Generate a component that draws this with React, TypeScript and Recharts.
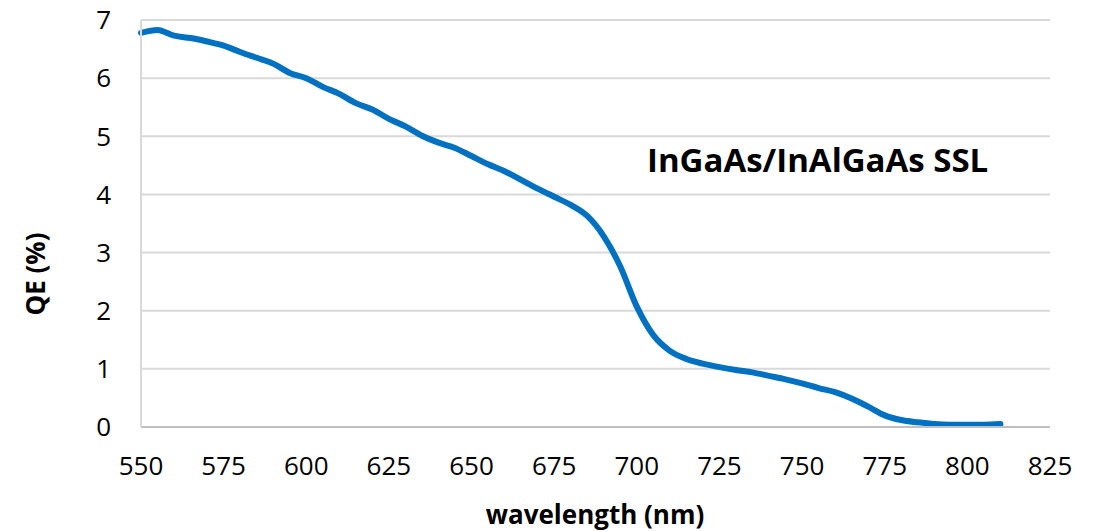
import { LineChart, Line, XAxis, YAxis, CartesianGrid } from 'recharts'

// wavelength (nm) sampled every 5 nm
const wavelengths = [
  550, 555, 560, 565, 570, 575, 580, 585, 590, 595,
  600, 605, 610, 615, 620, 625, 630, 635, 640, 645,
  650, 655, 660, 665, 670, 675, 680, 685, 690, 695,
  700, 705, 710, 715, 720, 725, 730, 735, 740, 745,
  750, 755, 760, 765, 770, 775, 780, 785, 790, 795,
  800, 805, 810,
]

// quantum efficiency (%)
const qe = [
  6.78, 6.83, 6.73, 6.69, 6.63, 6.56, 6.45, 6.35, 6.25, 6.09,
  6.0, 5.85, 5.73, 5.57, 5.46, 5.3, 5.17, 5.01, 4.89, 4.8,
  4.66, 4.52, 4.4, 4.25, 4.1, 3.96, 3.82, 3.63, 3.28, 2.76,
  2.07, 1.58, 1.31, 1.17, 1.09, 1.03, 0.98, 0.94, 0.88, 0.82,
  0.75, 0.67, 0.6, 0.49, 0.35, 0.2, 0.12, 0.08, 0.05, 0.04,
  0.04, 0.04, 0.05,
]

const xTicks = [550, 575, 600, 625, 650, 675, 700, 725, 750, 775, 800, 825]
const yTicks = [0, 1, 2, 3, 4, 5, 6, 7]

const FONT = '"Open Sans", "Noto Sans", sans-serif'
const tickStyle = { fontSize: 26, fill: '#000', fontFamily: FONT }

export default function App() {
  const data = wavelengths.map((w, i) => ({ w, qe: qe[i] }))

  return (
    <div style={{ position: 'absolute', left: 0, top: 0, width: 1094, height: 531, background: '#fff' }}>
      <LineChart width={1094} height={531} data={data} margin={{ top: 20, right: 44, bottom: 44, left: 0 }}>
        <CartesianGrid horizontal vertical={false} stroke="#d9d9d9" strokeWidth={2} />
        <XAxis
          dataKey="w"
          type="number"
          domain={[550, 825]}
          ticks={xTicks}
          height={60}
          tick={tickStyle}
          tickLine={false}
          tickSize={0}
          tickMargin={30}
          axisLine={{ stroke: '#bfbfbf', strokeWidth: 2 }}
          label={() => (
            <text x={595} y={514} textAnchor="middle" dominantBaseline="central"
              style={{ fontSize: 26, fontWeight: 700, fontFamily: FONT, fill: '#000' }}>
              wavelength (nm)
            </text>
          )}
        />
        <YAxis
          type="number"
          domain={[0, 7]}
          ticks={yTicks}
          width={141}
          tick={tickStyle}
          tickLine={false}
          tickSize={0}
          tickMargin={30}
          axisLine={{ stroke: '#d9d9d9', strokeWidth: 2 }}
          label={() => (
            <text x={35} y={274} transform="rotate(-90 35 274)" textAnchor="middle" dominantBaseline="central"
              style={{ fontSize: 26, fontWeight: 700, fontFamily: FONT, fill: '#000' }}>
              QE (%)
            </text>
          )}
        />
        <Line
          type="monotone"
          dataKey="qe"
          stroke="#0070c0"
          strokeWidth={6}
          strokeLinecap="round"
          dot={false}
          isAnimationActive={false}
        />
      </LineChart>
      <div
        style={{
          position: 'absolute', left: 647, top: 140, fontFamily: FONT, fontWeight: 700,
          fontSize: 33, color: '#000', whiteSpace: 'nowrap', lineHeight: '40px',
        }}
      >
        InGaAs/InAlGaAs SSL
      </div>
    </div>
  )
}
